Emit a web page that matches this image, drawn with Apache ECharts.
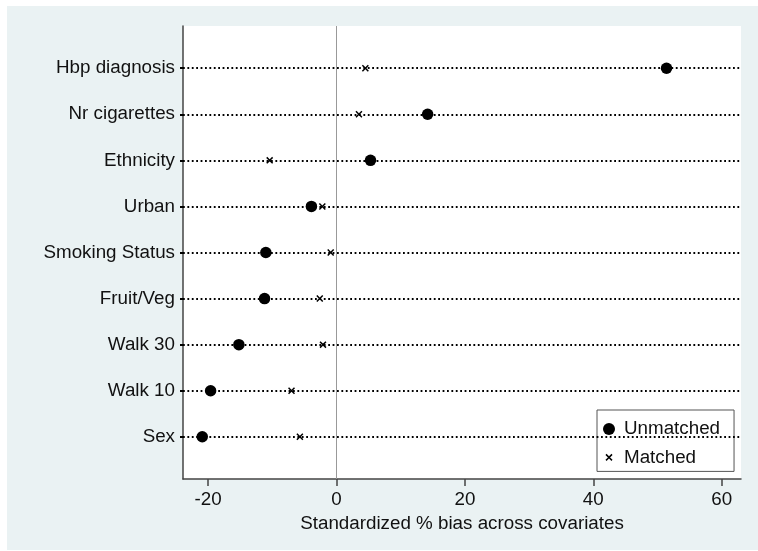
<!DOCTYPE html>
<html>
<head>
<meta charset="utf-8">
<script src="https://cdn.jsdelivr.net/npm/echarts@6/dist/echarts.min.js"></script>
<style>
html,body{margin:0;padding:0;background:#ffffff;}
#chart{position:absolute;left:7px;top:6px;width:751px;height:544px;}
</style>
</head>
<body>
<div id="chart"></div>
<script>
// Data
const categories = ['Hbp diagnosis','Nr cigarettes','Ethnicity','Urban','Smoking Status','Fruit/Veg','Walk 30','Walk 10','Sex'];
const unmatched = [51.4, 14.2, 5.3, -3.9, -11.0, -11.2, -15.2, -19.6, -20.9];
const matched = [4.5, 3.5, -10.4, -2.2, -0.9, -2.6, -2.1, -7.0, -5.7];
const xTicks = [-20, 0, 20, 40, 60];

const FONT = '"Liberation Sans", Arial, Helvetica, sans-serif';
const FS = 18.8;
const XPATH = 'path://M0,1.5L1.5,0L5,3.5L8.5,0L10,1.5L6.5,5L10,8.5L8.5,10L5,6.5L1.5,10L0,8.5L3.5,5Z';
const XPATH_LEG = 'path://M-3.5,-3.5M13.5,13.5M0,1.5L1.5,0L5,3.5L8.5,0L10,1.5L6.5,5L10,8.5L8.5,10L5,6.5L1.5,10L0,8.5L3.5,5Z';
const idx = categories.map((c, i) => i);

const chart = echarts.init(document.getElementById('chart'));
chart.setOption({
  backgroundColor: '#eaf2f3',
  animation: false,
  textStyle: {fontFamily: FONT},
  grid: {left: 176, top: 20, right: 17, bottom: 71, show: true, backgroundColor: '#ffffff', borderWidth: 0},
  xAxis: {
    type: 'value', min: -23.9, max: 63,
    name: 'Standardized % bias across covariates',
    nameLocation: 'middle', nameGap: 29,
    nameTextStyle: {fontSize: FS, color: '#111', fontFamily: FONT},
    axisLine: {show: true, onZero: false, lineStyle: {color: '#444', width: 1.5}},
    axisTick: {show: true, length: 7, customValues: xTicks, lineStyle: {color: '#444', width: 1.5}},
    axisLabel: {customValues: xTicks, fontSize: FS, color: '#111', margin: 11, fontFamily: FONT},
    splitLine: {show: false}
  },
  yAxis: {
    type: 'value', min: -0.917, max: 8.917, inverse: true,
    axisLine: {show: true, onZero: false, lineStyle: {color: '#444', width: 1.5}},
    axisTick: {show: true, length: 3, customValues: idx, lineStyle: {color: '#000', width: 2}},
    axisLabel: {customValues: idx, fontSize: FS, color: '#111', margin: 8, fontFamily: FONT,
      formatter: v => categories[Math.round(v)]},
    splitLine: {show: false}
  },
  legend: {
    orient: 'vertical', left: 590, top: 404,
    backgroundColor: '#ffffff', borderColor: '#555', borderWidth: 1,
    padding: [9, 14, 4, 6], itemGap: 8.4, itemWidth: 20, itemHeight: 12,
    textStyle: {fontSize: FS, color: '#111', lineHeight: 20, fontFamily: FONT},
    data: [{name: 'Unmatched', icon: 'circle'}, {name: 'Matched', icon: XPATH_LEG}]
  },
  series: [
    {
      name: 'lines', type: 'scatter', data: [], z: 1, silent: true,
      markLine: {
        silent: true, symbol: 'none', label: {show: false}, animation: false,
        data: [
          {xAxis: 0, lineStyle: {color: '#999', width: 1, type: 'solid'}}
        ].concat(idx.map(i => ({yAxis: i, lineStyle: {color: '#000', width: 1.8, type: [1.8, 2.6]}})))
      }
    },
    {
      name: 'Unmatched', type: 'scatter', z: 3, symbol: 'circle', symbolSize: 11.5,
      itemStyle: {color: '#000', opacity: 1},
      data: unmatched.map((v, i) => [v, i])
    },
    {
      name: 'Matched', type: 'scatter', z: 3, symbol: XPATH, symbolSize: 7,
      itemStyle: {color: '#000', opacity: 1},
      data: matched.map((v, i) => [v, i])
    }
  ]
});
</script>
</body>
</html>
